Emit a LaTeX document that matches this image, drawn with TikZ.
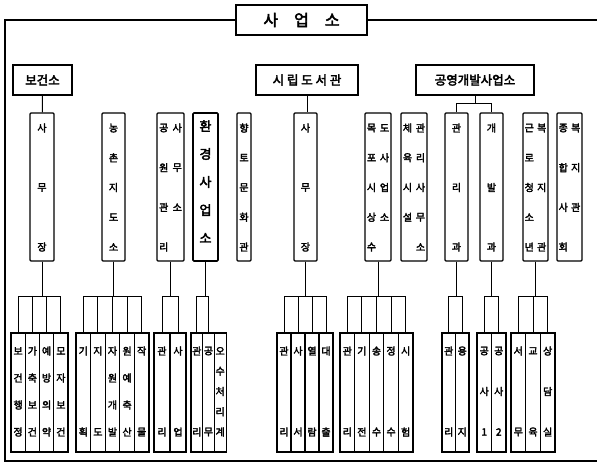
\documentclass[tikz,border=0pt]{standalone}
\usepackage{fontspec}
\setmainfont{Noto Sans CJK KR}[AutoFakeBold=3]
\usetikzlibrary{calc}
\tikzset{frameline/.style={line width=1.6pt,black}, topbox/.style={draw,line width=1.3pt,minimum width=131pt,minimum height=30pt,inner sep=0pt,font=\fontsize{16}{16}\selectfont\bfseries}, headbox/.style={draw,line width=1.1pt,minimum height=30pt,inner sep=0pt,font=\fontsize{12.5}{12.5}\selectfont\bfseries},colbox/.style={draw,line width=1.1pt,rounded corners=1pt,minimum height=148pt,inner sep=0pt}, envbox/.style={colbox,line width=1.7pt}, subbox/.style={draw,line width=1.1pt,minimum height=119pt,inner sep=0pt},chartext/.style={inner sep=0pt,font=\fontsize{10}{10}\selectfont\bfseries}, envtext/.style={inner sep=0pt,font=\fontsize{13}{13}\selectfont\bfseries},link/.style={line width=1pt}}

\begin{document}
\begin{tikzpicture}[x=1pt,y=-1pt]
\useasboundingbox (0,0) rectangle (597,463);
% frame
\node[topbox] (top) at (301.5,20) {사\quad 업\quad 소};
\coordinate (frTL) at (5,20);
\coordinate (frTR) at (597,20);
\coordinate (frBL) at (5,461);
\coordinate (frBR) at (597,461);
\draw[frameline] (top.west) -- (frTL) -- (frBL) -- (frBR);
\draw[frameline] (top.east) -- (frTR);
% first level
\node[headbox,minimum width=59pt] (bgs) at (42.5,80) {보건소};
\node[headbox,minimum width=102pt] (lib) at (307,80) {시 립 도 서 관};
\node[headbox,minimum width=118pt] (gy) at (475,80) {공영개발사업소};
% tall boxes, one column of text
\foreach \nm/\cx/\bw/\nr/\txt in {c1/42/24/3/{사,무,장},c2/113.5/23/5/{농,촌,지,도,소},c5/244/14/5/{향,토,문,화,관},c6/305.5/23/3/{사,무,장},c9/456.5/23/3/{관,리,과},c10/491.5/23/3/{개,발,과}}{
 \node[colbox,minimum width=\bw pt] (\nm) at (\cx,187) {};
 \foreach \ch [count=\i] in \txt
  \node[chartext] (\nm t\i) at (\cx,{128+(\i-1)*119/(\nr-1)}) {\ch};
}
\node[envbox,minimum width=25pt] (c4) at (205.5,187) {};
\foreach \ch [count=\i] in {환,경,사,업,소}
 \node[envtext] (c4t\i) at (205.5,{126+(\i-1)*28}) {\ch};
% tall boxes, two columns of text
\foreach \nm/\cx/\bw/\nr/\lt/\rt in {c3/170.5/27/4/{공,원,관,리}/{사,무,소},c7/378/26/5/{목,포,시,상,수}/{도,사,업,소},c8/414/26/5/{체,육,시,설}/{관,리,사,무,소},c11/535.5/25/5/{근,로,청,소,년}/{복,{},지,{},관},c12/569.5/25/4/{종,합,사,회}/{복,지,관}}{
 \node[colbox,minimum width=\bw pt] (\nm) at (\cx,187) {};
 \foreach \ch [count=\i] in \lt
  \node[chartext] (\nm l\i) at ({\cx-\bw/4},{128+(\i-1)*119/(\nr-1)}) {\ch};
 \foreach \ch [count=\i] in \rt
  \node[chartext] (\nm r\i) at ({\cx+\bw/4},{128+(\i-1)*119/(\nr-1)}) {\ch};
}
% links from the first level
\draw[link] (bgs) -- (c1);
\draw[link] (lib.south) -- (lib.south |- c6.north);
\draw[link] (gy.south) -- ++(0,8) -| (c9.north);
\draw[link] (gy.south) -- ++(0,8) -| (c10.north);
% lower boxes
\foreach \nm/\up/\cx/\bw/\nr/\lk/\txt in {a1/c1/18.1/14.25/4/1/{보,건,행,정},a2/c1/32.4/14.25/4/1/{가,축,보,건},a3/c1/46.6/14.25/4/1/{예,방,의,약},a4/c1/60.9/14.25/4/1/{모,자,보,건},
 b1/c2/83.3/14.6/2/1/{기,획},b2/c2/97.9/14.6/2/1/{지,도},b3/c2/112.5/14.6/4/1/{자,원,개,발},b4/c2/127.1/14.6/4/1/{원,예,축,산},b5/c2/141.7/14.6/2/1/{작,물},
 d1/c3/162/16/2/1/{관,리},d2/c3/178/16/2/1/{사,업},
 e1/c4/196.8/11.7/2/1/{관,리},e2/c4/208.5/11.7/2/1/{공,무},e3/c4/220.2/11.7/5/0/{오,수,처,리,계},
 f1/c6/284/14/2/1/{관,리},f2/c6/298/14/2/1/{사,서},f3/c6/312/14/2/1/{열,람},f4/c6/326/14/2/1/{대,출},
 g1/c7/347.3/14.6/2/1/{관,리},g2/c7/361.9/14.6/2/1/{기,전},g3/c7/376.5/14.6/2/1/{송,수},g4/c7/391.1/14.6/2/1/{정,수},g5/c7/405.7/14.6/2/1/{시,험},
 h1/c9/448.75/13.5/2/1/{관,리},h2/c9/462.25/13.5/2/1/{용,지},
 k1/c10/484.25/14.5/3/1/{공,사,1},k2/c10/498.75/14.5/3/1/{공,사,2},
 m1/c11/518.3/14.67/2/1/{서,무},m2/c11/533/14.67/2/1/{교,육},m3/c11/547.7/14.67/3/1/{상,담,실}}{
 \node[subbox,minimum width=\bw pt] (\nm) at (\cx,392.5) {};
 \foreach \ch [count=\i] in \txt
  \node[chartext] (\nm t\i) at (\cx,{351+(\i-1)*81/(\nr-1)}) {\ch};
 \ifnum\lk=1 \draw[link] (\up.south) -- ++(0,35) -| (\nm.north);\fi
}
\end{tikzpicture}
\end{document}
